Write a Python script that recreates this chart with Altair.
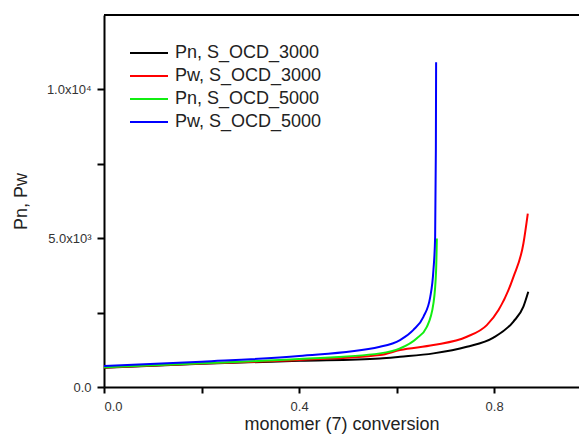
import altair as alt
import pandas as pd

series_names = ["Pn, S_OCD_3000", "Pw, S_OCD_3000", "Pn, S_OCD_5000", "Pw, S_OCD_5000"]
series_colors = ["#000000", "#ff0000", "#11ee11", "#0000ff"]

pn3000_x = [0.0, 0.2, 0.4, 0.566, 0.607, 0.6755, 0.744, 0.7986, 0.8396, 0.860, 0.870]
pn3000_y = [650, 780, 880, 960, 1017, 1130, 1353, 1660, 2200, 2700, 3198]

pw3000_x = [0.0, 0.2, 0.4, 0.566, 0.607, 0.6755, 0.744, 0.785, 0.809, 0.8396, 0.860, 0.869]
pw3000_y = [655, 790, 910, 1074, 1241, 1409, 1688, 2080, 2584, 3702, 4822, 5829]

pn5000_x = [0.0, 0.2, 0.4, 0.566, 0.607, 0.641, 0.662, 0.6755, 0.681, 0.6825]
pn5000_y = [660, 800, 940, 1130, 1298, 1633, 2023, 2808, 3926, 4990]

pw5000_x = [0.0, 0.2, 0.4, 0.566, 0.607, 0.634, 0.655, 0.669, 0.6755, 0.679, 0.6805, 0.681]
pw5000_y = [705, 850, 1040, 1352, 1577, 1913, 2359, 3030, 3926, 5044, 8000, 10916]

y_ticks = [0, 2500, 5000, 7500, 10000]
x_ticks = [0.0, 0.2, 0.4, 0.6, 0.8]
x_max = 0.974
y_max = 12500

rows = []
for name, xs, ys in zip(series_names,
                        [pn3000_x, pw3000_x, pn5000_x, pw5000_x],
                        [pn3000_y, pw3000_y, pn5000_y, pw5000_y]):
    for i, (a, b) in enumerate(zip(xs, ys)):
        rows.append({"series": name, "conv": a, "P": b, "order": i})
df = pd.DataFrame(rows)

leg_df = pd.DataFrame({"series": series_names, "idx": list(range(len(series_names)))})

FONT = "Liberation Sans"
W, H = 475, 372

color_scale = alt.Scale(domain=series_names, range=series_colors)
xscale = alt.Scale(domain=[0, x_max], nice=False, zero=False)
yscale = alt.Scale(domain=[0, y_max], nice=False)

lines = alt.Chart(df).mark_line(strokeWidth=2, interpolate="monotone", clip=True).encode(
    x=alt.X("conv:Q", scale=xscale,
            axis=alt.Axis(values=x_ticks, title="monomer (7) conversion",
                          labelExpr="datum.value == 0.2 || datum.value == 0.6 ? '' : format(datum.value, '.1f')",
                          grid=False, domainColor="#000", domainWidth=2, tickColor="#000",
                          tickWidth=2, tickSize=6, labelFontSize=13, labelColor="#333",
                          labelFont=FONT, titleFont=FONT, titleFontSize=18, titleFontWeight="normal",
                          titleColor="#222", labelPadding=7, titlePadding=2)),
    y=alt.Y("P:Q", scale=yscale,
            axis=alt.Axis(values=y_ticks, title="Pn, Pw",
                          labelExpr="datum.value == 0 ? '0.0' : datum.value == 5000 ? '5.0x10³' : datum.value == 10000 ? '1.0x10⁴' : ''",
                          grid=False, domainColor="#000", domainWidth=2, tickColor="#000",
                          tickWidth=2, tickSize=7, labelFontSize=13, labelColor="#333",
                          labelFont=FONT, titleFont=FONT, titleFontSize=18, titleFontWeight="normal",
                          titleColor="#222", labelPadding=6, titlePadding=16)),
    color=alt.Color("series:N", scale=color_scale, legend=None),
    order="order:Q",
)

# top line of the plot frame (colour given through a data field, which renders reliably)
frame_df = pd.DataFrame({"edge": ["top"], "pos": [0], "col": ["#000000"]})
top_border = alt.Chart(frame_df).mark_rule(strokeWidth=2).encode(
    x=alt.value(0), x2=alt.value(W),
    y=alt.Y("pos:Q", scale=alt.Scale(domain=[0, H], range=[0, H]), axis=None),
    color=alt.Color("col:N", scale=None),
)

leg_y = alt.Y("idx:O", scale=alt.Scale(type="point", range=[38, 107], padding=0), axis=None)
leg_rules = alt.Chart(leg_df).mark_rule(strokeWidth=2).encode(
    x=alt.value(26), x2=alt.value(64), y=leg_y,
    color=alt.Color("series:N", scale=color_scale, legend=None),
)
leg_text = alt.Chart(leg_df).mark_text(align="left", baseline="middle", fontSize=18,
                                       font=FONT, color="#222").encode(
    x=alt.value(71), y=leg_y, text="series:N",
)

chart = alt.layer(lines, top_border, leg_rules, leg_text).resolve_scale(
    y="independent", color="independent"
).properties(
    width=W, height=H,
    autosize=alt.AutoSizeParams(type="none"),
    padding={"left": 96, "top": 7, "right": 0, "bottom": 48},
).configure_view(stroke=None).configure(background="white")

chart.save("out.html", embed_options={"renderer": "svg", "actions": False})
